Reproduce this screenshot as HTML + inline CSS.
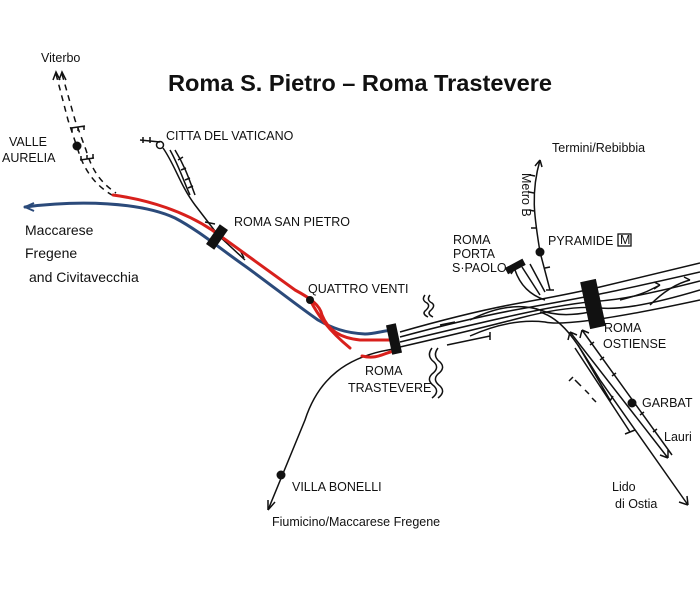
<!DOCTYPE html>
<html><head><meta charset="utf-8"><style>
html,body{margin:0;padding:0;background:#fff;}
svg{display:block;}
.h{font-family:"Liberation Sans",sans-serif;font-size:12.5px;fill:#111;}
.c{font-family:"Liberation Sans",sans-serif;font-size:14px;fill:#111;}
</style></head><body>
<svg width="700" height="599" viewBox="0 0 700 599" xmlns="http://www.w3.org/2000/svg">
<rect width="700" height="599" fill="#fff"/>
<text x="168" y="91" font-family="Liberation Sans,sans-serif" font-weight="bold" font-size="23" textLength="384" lengthAdjust="spacingAndGlyphs" fill="#111">Roma S. Pietro – Roma Trastevere</text>
<g fill="none" stroke="#111" stroke-width="1.5">
<path d="M56,74 L68,120 L78,150 C84,170 95,185 112,195" stroke-dasharray="6,5"/>
<path d="M62,74 L75,120 L86,150 C92,170 100,182 116,193" stroke-dasharray="6,5"/>
<path d="M53,80 L56,72 L60,80 M59,80 L62,72 L66,80"/>
<path d="M71,128 L85,126 M72,128 v4 M78,127 v4 M84,126 v4"/>
<path d="M80,160 L94,158 M81,160 v-4 M87,159 v-4 M93,158 v-4"/>
<path d="M140,140 L160,142 M143,137 v6 M150,137 v6"/>
<circle cx="160" cy="145" r="3.5"/>
<path d="M163,148 C175,165 180,185 195,205 L218,235 L245,260"/>
<path d="M170,150 C180,168 185,185 190,195"/>
<path d="M175,150 C186,168 190,182 195,195 M178,160 l5,-3 M181,170 l5,-2 M185,180 l5,-2 M188,188 l5,-2"/>
<path d="M205,222 l10,2 M240,250 l4,8"/>
<path d="M400,332 Q470,312 520,303 T600,287 T700,263"/>
<path d="M400,337 Q470,318 520,309 T600,294 T700,272"/>
<path d="M400,342 Q470,325 520,314 T600,301 T700,281"/>
<path d="M400,347 Q470,331 520,318 T600,308 T700,290"/>
<path d="M470,320 Q510,300 540,310 Q560,318 590,312"/>
<path d="M470,336 Q510,318 545,322 Q570,328 700,300"/>
<path d="M620,300 Q640,295 650,290 L660,285 M660,285 l-6,-3 M660,285 l-6,4"/>
<path d="M650,305 Q670,285 690,280 M690,280 l-6,-3"/>
<path d="M447,345 L490,336 M490,332 v8 M440,325 l15,-3"/>
<path d="M425,295 q-4,5 2,8 q4,3 -2,8 q-3,3 3,6 M430,295 q-4,5 2,8 q4,3 -2,8 q-3,3 3,6"/>
<path d="M432,348 q-6,8 2,14 q6,6 -2,12 q-6,6 2,12 q6,6 -2,12 M438,348 q-6,8 2,14 q6,6 -2,12 q-6,6 2,12 q6,6 -2,12"/>
<path d="M400,348 C345,355 318,380 305,420 L268,510"/>
<path d="M268,510 l0,-10 M268,510 l7,-8"/>
<path d="M540,252 C535,220 530,195 540,160 M540,160 l-5,6 M540,160 l2,7"/>
<path d="M530,175 l5,1 M529,192 l5,1 M529,210 l5,1 M531,228 l5,0"/>
<path d="M540,252 L550,290 M545,268 l5,-1 M546,290 l8,0"/>
<path d="M515,270 C520,285 530,295 545,300 M522,267 L540,295 M530,264 L545,292 M515,268 l-4,6"/>
<path d="M540,312 C565,320 578,345 600,380 L688,505 M688,505 l-9,-3 M688,505 l-1,-9"/>
<path d="M570,332 L668,458 M668,458 l-8,-3 M668,458 l0,-8 M570,332 l-2,8 M570,332 l7,3"/>
<path d="M582,330 L672,455 M582,330 l-2,8 M582,330 l7,3 M590,345 l4,-3 M600,360 l4,-3 M612,376 l4,-3 M640,415 l4,-3 M653,432 l4,-3"/>
<path d="M575,348 L630,432 M625,434 l10,-4 M578,345 L610,400 M607,396 l3,5 l3,-5"/>
<path d="M573,377 l-4,4 M575,380 l6,6 M585,390 l4,4 M592,398 l4,4"/>
</g>
<g fill="none" stroke-width="3" stroke-linecap="round">
<path d="M25,207 C80,200 140,202 175,218 C198,230 222,250 245,266 C270,284 295,304 318,320 C332,328 345,333 365,334 C375,334 385,330 395,330" stroke="#2b4a7a"/>
<path d="M113,195 C150,200 185,212 212,230 C240,250 270,272 295,290 C310,298 320,305 322,315 C328,330 340,338 360,340 L395,340" stroke="#d8201c"/>
<path d="M310,300 C318,315 328,330 350,348" stroke="#d8201c"/>
<path d="M398,350 C385,352 378,360 362,356" stroke="#d8201c"/>
</g>
<path d="M25,207 l9,-4 M25,207 l9,4" stroke="#2b4a7a" stroke-width="2" fill="none"/>
<g fill="#111">
<circle cx="77" cy="146" r="4.5"/>
<circle cx="310" cy="300" r="4"/>
<circle cx="540" cy="252" r="4.5"/>
<circle cx="632" cy="403" r="4.5"/>
<circle cx="281" cy="475" r="4.5"/>
<rect x="212" y="225" width="10" height="24" transform="rotate(35 217 237)"/>
<rect x="389" y="324" width="10" height="30" transform="rotate(-12 394 339)"/>
<rect x="585" y="280" width="16" height="48" transform="rotate(-12 593 304)"/>
<rect x="512" y="256" width="7" height="20" transform="rotate(62 515 266)"/>
</g>
<text class="h" x="41" y="62" font-size="13">Viterbo</text>
<text class="h" x="9" y="146">VALLE</text>
<text class="h" x="2" y="162">AURELIA</text>
<text class="h" x="166" y="140">CITTA DEL VATICANO</text>
<text class="h" x="234" y="226">ROMA SAN PIETRO</text>
<text class="h" x="308" y="293">QUATTRO VENTI</text>
<text class="h" x="365" y="375">ROMA</text>
<text class="h" x="348" y="392">TRASTEVERE</text>
<text class="c" x="25" y="235">Maccarese</text>
<text class="c" x="25" y="258">Fregene</text>
<text class="c" x="29" y="282">and Civitavecchia</text>
<text class="h" x="292" y="491">VILLA BONELLI</text>
<text class="h" x="272" y="526" font-size="13">Fiumicino/Maccarese Fregene</text>
<text class="h" x="552" y="152" font-size="13">Termini/Rebibbia</text>
<text class="h" x="0" y="0" font-size="11" transform="translate(522,173) rotate(90)">Metro B</text>
<text class="h" x="453" y="244">ROMA</text>
<text class="h" x="453" y="258">PORTA</text>
<text class="h" x="452" y="272">S·PAOLO</text>
<text class="h" x="548" y="245">PYRAMIDE</text>
<rect x="618" y="234" width="13" height="12" fill="none" stroke="#111" stroke-width="1.3"/>
<text class="h" x="620" y="244" font-size="10">M</text>
<text class="h" x="604" y="332">ROMA</text>
<text class="h" x="603" y="348">OSTIENSE</text>
<text class="h" x="642" y="407">GARBAT</text>
<text class="h" x="664" y="441" font-size="13">Lauri</text>
<text class="h" x="612" y="491" font-size="13">Lido</text>
<text class="h" x="615" y="508" font-size="13">di Ostia</text>
</svg>
</body></html>
